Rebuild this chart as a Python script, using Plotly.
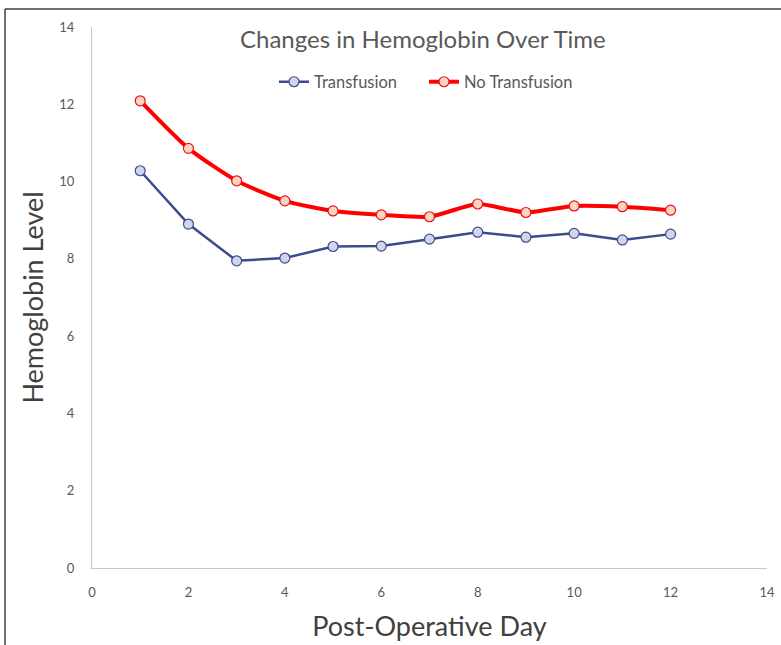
import plotly.graph_objects as go

days = [1, 2, 3, 4, 5, 6, 7, 8, 9, 10, 11, 12]
transfusion = [10.28, 8.90, 7.95, 8.02, 8.32, 8.33, 8.51, 8.69, 8.56, 8.66, 8.49, 8.64]
no_transfusion = [12.09, 10.86, 10.02, 9.50, 9.24, 9.14, 9.09, 9.42, 9.20, 9.37, 9.35, 9.26]
x_ticks = [0, 2, 4, 6, 8, 10, 12, 14]
y_ticks = [0, 2, 4, 6, 8, 10, 12, 14]

FONT = "Lato, 'Open Sans', sans-serif"

fig = go.Figure()
fig.add_trace(go.Scatter(
    x=days, y=transfusion, name="Transfusion", mode="lines+markers",
    line=dict(color="#3c4b8c", width=2.5),
    marker=dict(symbol="circle", size=10, color="#cfd6ea",
                line=dict(color="#3c4b8c", width=1.2)),
))
fig.add_trace(go.Scatter(
    x=days, y=no_transfusion, name="No Transfusion", mode="lines+markers",
    line=dict(color="#ff0000", width=4, shape="spline", smoothing=0.6),
    marker=dict(symbol="circle", size=10, color="#fbd5bd",
                line=dict(color="#e8101a", width=1.2)),
))

W, H = 781, 645
L, R, T, B = 92, 14, 27, 77
pw, ph = W - L - R, H - T - B


def px(x):
    return (x - L) / pw


def py(y):
    return (H - B - y) / ph


fig.update_layout(
    width=W, height=H,
    margin=dict(l=L, r=R, t=T, b=B, autoexpand=False),
    paper_bgcolor="white", plot_bgcolor="white",
    font=dict(family=FONT, color="#595959"),
    showlegend=True,
    legend=dict(orientation="h", x=px(274), y=py(82), xanchor="left", yanchor="middle",
                font=dict(size=16.5, color="#595959"), bgcolor="rgba(0,0,0,0)",
                itemwidth=30, tracegroupgap=0,
                entrywidthmode="pixels", entrywidth=105),
    xaxis=dict(range=[0, 14], tickvals=x_ticks, showgrid=False, zeroline=False,
               showline=True, linecolor="#c8c8c8", linewidth=1, automargin=False,
               ticks="", ticklabelstandoff=12,
               tickfont=dict(size=13, color="#595959"),
               title=dict(text="Post-Operative Day", standoff=18,
                          font=dict(size=27, color="#404040"))),
    yaxis=dict(range=[0, 14], tickvals=y_ticks, showgrid=False, zeroline=False,
               showline=True, linecolor="#c8c8c8", linewidth=1, automargin=False,
               ticks="", ticklabelstandoff=14,
               tickfont=dict(size=13, color="#595959"),
               title=dict(text="Hemoglobin Level", standoff=7,
                          font=dict(size=27, color="#404040"))),
    annotations=[dict(
        text="Changes in Hemoglobin Over Time", xref="paper", yref="paper",
        x=px(423), y=py(38), xanchor="center", yanchor="middle", showarrow=False,
        font=dict(size=24, color="#595959"),
    )],
    shapes=[
        dict(type="line", xref="paper", yref="paper", x0=px(5), x1=px(781),
             y0=py(9), y1=py(9), line=dict(color="#404040", width=1.5)),
        dict(type="line", xref="paper", yref="paper", x0=px(5), x1=px(5),
             y0=py(9), y1=py(645), line=dict(color="#404040", width=1.5)),
    ],
)

fig.write_html("out.html")
